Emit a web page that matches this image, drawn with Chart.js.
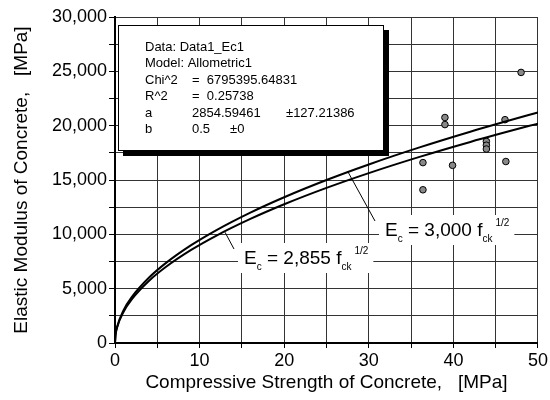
<!DOCTYPE html>
<html>
<head>
<meta charset="utf-8">
<script src="https://cdn.jsdelivr.net/npm/chart.js@4.4.1/dist/chart.umd.min.js"></script>
<style>
  html, body { margin: 0; padding: 0; background: #fff; }
  #wrap { width: 550px; height: 400px; }
</style>
</head>
<body>
<div id="wrap"><canvas id="chart"></canvas></div>
<script>
// measured points
const test_x = [48.0, 39.0, 39.0, 43.9, 43.9, 43.9, 46.1, 36.4, 39.9, 46.2, 36.4];
const test_y = [24900, 20750, 20100, 18550, 18200, 17850, 20550, 16600, 16350, 16700, 14100];

// fitted curves, sampled
const curve_x = [0, 0.0625, 0.25, 1, 2, 4, 6, 9, 12, 16, 20, 25, 30, 36, 42, 49, 50];
const ec3000 = [0, 750, 1500, 3000, 4243, 6000, 7348, 9000, 10392, 12000, 13416, 15000, 16432, 18000, 19442, 21000, 21213];
const ec2855 = [0, 714, 1428, 2855, 4038, 5710, 6993, 8565, 9890, 11420, 12768, 14275, 15637, 17130, 18503, 19985, 20188];

const fit_lines = [
  'Data: Data1_Ec1',
  'Model: Allometric1',
  ['Chi^2', '=  6795395.64831'],
  ['R^2', '=  0.25738'],
  ['a', '2854.59461', '\u00b1127.21386'],
  ['b', '0.5', '\u00b10']
];

const font_main = '"Liberation Sans", Arial, sans-serif';

function pts(xs, ys) {
  return xs.map((x, i) => ({ x: x, y: ys[i] }));
}

// text box + equation labels
const extras = {
  id: 'extras',
  afterDatasetsDraw(chart) {
    const ctx = chart.ctx;
    const xs = chart.scales.x, ys = chart.scales.y;

    // fit result box
    ctx.save();
    ctx.fillStyle = '#000';
    ctx.fillRect(123, 30, 266, 126);
    ctx.fillStyle = '#fff';
    ctx.fillRect(118, 25, 265, 125);
    ctx.strokeStyle = '#000';
    ctx.lineWidth = 1;
    ctx.strokeRect(118.5, 25.5, 265, 125);
    ctx.fillStyle = '#000';
    ctx.font = '13px ' + font_main;
    ctx.textBaseline = 'middle';
    let ly = 47;
    fit_lines.forEach((row) => {
      if (typeof row === 'string') {
        ctx.fillText(row, 145, ly);
      } else {
        ctx.fillText(row[0], 145, ly);
        ctx.fillText(row[1], 192, ly);
        if (row[2]) ctx.fillText(row[2], row[0] === 'a' ? 286 : 230, ly);
      }
      ly += 16.5;
    });
    ctx.restore();

    function eq(num, lx, ly, fromX, fromY) {
      // leader line from label to curve
      ctx.save();
      ctx.strokeStyle = '#000';
      ctx.lineWidth = 1;
      ctx.beginPath();
      ctx.moveTo(lx - 10, ly - 8);
      ctx.lineTo(xs.getPixelForValue(fromX), ys.getPixelForValue(fromY));
      ctx.stroke();
      const big = '19px ' + font_main;
      const small = '10px ' + font_main;
      const parts = [
        ['E', 'n'], ['c', 'sub'], [' = ' + num + ' f', 'n'], ['ck', 'sub'], ['1/2', 'sup']
      ];
      let w = 0;
      parts.forEach((p) => {
        ctx.font = p[1] === 'n' ? big : small;
        w += ctx.measureText(p[0]).width;
      });
      ctx.fillStyle = '#fff';
      ctx.fillRect(lx - 6, ly - 14, w + 14, 30);
      ctx.fillStyle = '#000';
      ctx.textBaseline = 'alphabetic';
      let cx = lx;
      parts.forEach((p) => {
        let yy = ly + 7;
        if (p[1] === 'sub') { ctx.font = small; yy = ly + 13; }
        else if (p[1] === 'sup') { ctx.font = small; yy = ly - 3; cx += 3; }
        else ctx.font = big;
        ctx.fillText(p[0], cx, yy);
        cx += ctx.measureText(p[0]).width;
      });
      ctx.restore();
    }
    eq('3,000', 385, 229, 27.5, 15800);
    eq('2,855', 244, 257, 13, 10200);
  }
};

new Chart(document.getElementById('chart'), {
  type: 'scatter',
  data: {
    datasets: [
      {
        label: 'Ec = 3000',
        data: pts(curve_x, ec3000),
        showLine: true,
        borderColor: '#000',
        borderWidth: 2,
        pointRadius: 0,
        cubicInterpolationMode: 'monotone'
      },
      {
        label: 'Ec = 2855',
        data: pts(curve_x, ec2855),
        showLine: true,
        borderColor: '#000',
        borderWidth: 2,
        pointRadius: 0,
        cubicInterpolationMode: 'monotone'
      },
      {
        label: 'Data1_Ec1',
        data: pts(test_x, test_y),
        pointRadius: 3.3,
        pointBackgroundColor: '#888',
        pointBorderColor: '#000',
        pointBorderWidth: 1
      }
    ]
  },
  options: {
    responsive: true,
    maintainAspectRatio: false,
    animation: false,
    layout: { padding: { top: 17, right: 12, left: 4, bottom: 4 } },
    plugins: {
      legend: { display: false },
      tooltip: { enabled: false }
    },
    scales: {
      x: {
        type: 'linear',
        min: 0,
        max: 50,
        afterFit: (s) => { s.height = 53; },
        ticks: {
          stepSize: 5,
          color: '#000',
          font: { family: font_main, size: 18 },
          maxRotation: 0,
          padding: 2,
          callback: (v) => (v % 10 === 0 ? v : '')
        },
        grid: { color: '#333', lineWidth: 1, tickLength: 5, tickColor: '#000' },
        border: { color: '#000', width: 2 },
        title: {
          display: true,
          text: 'Compressive Strength of Concrete,   [MPa]',
          color: '#000',
          font: { family: font_main, size: 19 },
          padding: { top: 0, bottom: 2 }
        }
      },
      y: {
        min: 0,
        max: 30000,
        afterFit: (s) => { s.width = 111; },
        ticks: {
          stepSize: 2500,
          color: '#000',
          font: { family: font_main, size: 18 },
          padding: 2,
          callback: (v) => (v % 5000 === 0 ? v.toLocaleString('en-US') : '')
        },
        grid: { color: '#333', lineWidth: 1, tickLength: 6, tickColor: '#000' },
        border: { color: '#000', width: 2 },
        title: {
          display: true,
          text: 'Elastic Modulus of Concrete,   [MPa]',
          color: '#000',
          font: { family: font_main, size: 19 },
          padding: { top: 6, bottom: 0 }
        }
      }
    }
  },
  plugins: [extras]
});
</script>
</body>
</html>
